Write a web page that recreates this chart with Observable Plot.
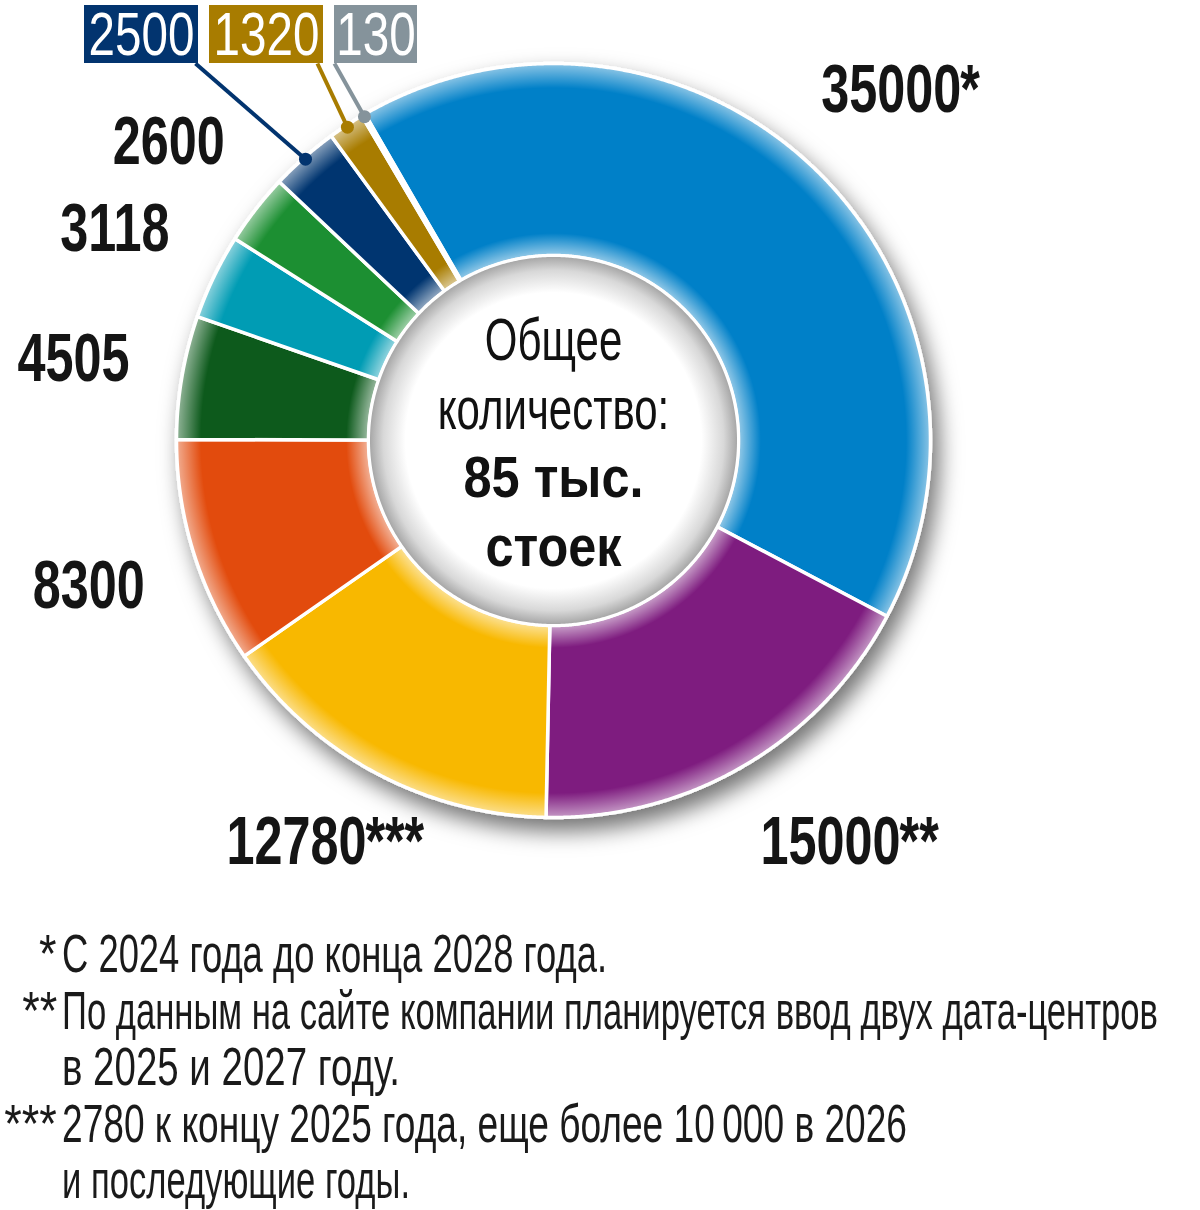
<!DOCTYPE html>
<html>
<head>
<meta charset="utf-8">
<script src="https://cdn.jsdelivr.net/npm/d3@7"></script>
<script src="https://cdn.jsdelivr.net/npm/@observablehq/plot@0.6"></script>
<style>
  html, body { margin: 0; padding: 0; background: #fff; }
  body { position: relative; width: 1200px; height: 1210px; overflow: hidden;
         font-family: "Liberation Sans", Arial, sans-serif; }
  #chart { position: absolute; left: 0; top: 0; }
  #notes { position: absolute; left: 0; top: 0; width: 1200px; }
  .nline { position: absolute; left: 0; height: 57px; white-space: nowrap; font-size: 53px; line-height: 57px; color: #1a1a1a; }
  .nmark { position: absolute; right: 1143px; top: 0; display: inline-block; transform-origin: 100% 50%; }
  .ntext { position: absolute; left: 62px; top: 0; display: inline-block; transform-origin: 0 50%; }
</style>
</head>
<body>
<div id="chart"></div>
<div id="notes"></div>
<script>
// ---- data ----
const sliceNumbers = ["35000", "15000", "12780", "8300", "4505", "3118", "2600", "2500", "1320", "130"];
const sliceSuffixes = ["*", "**", "***", "", "", "", "", "", "", ""];
const sliceValues = [35000, 15000, 12780, 8300, 4505, 3118, 2600, 2500, 1320, 130];
const sliceColors = ["#0680C8", "#7E1B7F", "#F8B800", "#E24B0E", "#0E5A1B", "#009CB4", "#1E8F30", "#02346F", "#A87C00", "#85939B"];
const calloutNumbers = ["2500", "1320", "130"];
const centerRegular = ["Общее", "количество:"];
const centerBold = ["85 тыс.", "стоек"];
const noteMarks = ["*", "**", "***"];
const noteLines = [
  ["С 2024 года до конца 2028 года."],
  ["По данным на сайте компании планируется ввод двух дата-центров", "в 2025 и 2027 году."],
  ["2780 к концу 2025 года, еще более 10\u2009000 в 2026", "и последующие годы."]
];

// ---- layout ----
const W = 1200, H = 900, cx = 553, cy = 440, R = 377, R0 = 185;
const start = -30 * Math.PI / 180;
const FONT = "Liberation Sans, Arial, sans-serif";

const arcs = d3.pie().sort(null).startAngle(start).endAngle(start + 2 * Math.PI)(sliceValues);
const polar = (a, r) => ({x: r * Math.sin(a), y: -r * Math.cos(a)});

const slicePts = arcs.flatMap((d, i) => {
  const n = Math.max(2, Math.ceil((d.endAngle - d.startAngle) / 0.004));
  const pts = [];
  for (let k = 0; k <= n; k++) pts.push(polar(d.startAngle + (d.endAngle - d.startAngle) * k / n, R));
  for (let k = n; k >= 0; k--) pts.push(polar(d.startAngle + (d.endAngle - d.startAngle) * k / n, R0));
  pts.push(pts[0]);
  return pts.map(p => ({...p, key: i, color: sliceColors[i]}));
});
const circle = r => d3.range(0, 721).map(k => polar(k / 720 * 2 * Math.PI, r));

// labels sit on a ring outside the donut; those that fall below it are lifted and spread sideways
const labelR = 487;
const labelData = arcs.map((d, i) => ({d, i})).filter(({i}) => !calloutNumbers.includes(sliceNumbers[i])).map(({d, i}) => {
  const a = (d.startAngle + d.endAngle) / 2;
  const p = polar(a, labelR);
  if (p.y > R + 24) { p.y = R + 24; p.x *= 1.12; }
  return {x: p.x, y: p.y, num: sliceNumbers[i], suf: sliceSuffixes[i], half: sliceNumbers[i].length * 14};
});

let bx = 84;
const boxes = calloutNumbers.map((t) => {
  const i = sliceNumbers.indexOf(t);
  const d = arcs[i];
  const a = (d.startAngle + d.endAngle) / 2;
  const dot = polar(a, R - 2);
  const w = 31 * t.length - 10;
  const b = {text: t, color: sliceColors[i], x0: bx, x1: bx + w, dot};
  bx += w + 11;
  b.sx = Math.min(b.x1 - 3, dot.x + cx - 30);
  return b;
});
const boxTop = 5, boxBottom = 63;

const marks = [
  Plot.line(slicePts, {x: "x", y: "y", z: "key", fill: "color", stroke: "#fff", strokeWidth: 3.5, curve: "linear"}),     // 0
  Plot.line(circle(R), {x: "x", y: "y", fill: "white", fillOpacity: 0, stroke: "none", curve: "linear"}),                 // 1 shine
  Plot.line(circle(R0), {x: "x", y: "y", fill: "white", stroke: "#fff", strokeWidth: 3, curve: "linear"}),                // 2 hole
  Plot.text(centerRegular, {x: () => 0, y: (d, i) => -100 + i * 69, text: d => d, fontSize: 60, fontFamily: FONT, fill: "#111"}), // 3
  Plot.text(centerBold, {x: () => 0, y: (d, i) => 38 + i * 69, text: d => d, fontSize: 58, fontWeight: 700, fontFamily: FONT, fill: "#111"}), // 4
  Plot.text(labelData, {x: "x", y: "y", text: "num", fontSize: 69, fontWeight: 700, fontFamily: FONT, fill: "#151515"}), // 5
  Plot.text(labelData.filter(d => d.suf), {x: d => d.x + d.half - 1, y: "y", text: "suf", textAnchor: "start", fontSize: 69, fontWeight: 700, fontFamily: FONT, fill: "#151515"}), // 6
  Plot.rect(boxes, {x1: d => d.x0 - cx, x2: d => d.x1 - cx, y1: () => boxTop - cy, y2: () => boxBottom - cy, fill: "color"}), // 7
  Plot.link(boxes, {x1: d => d.sx - cx, y1: () => boxBottom - cy, x2: d => d.dot.x, y2: d => d.dot.y, stroke: "color", strokeWidth: 4}), // 8
  Plot.dot(boxes, {x: d => d.dot.x, y: d => d.dot.y, r: 6.5, fill: "color", stroke: "none"}), // 9
  Plot.text(boxes, {x: d => (d.x0 + d.x1) / 2 - cx, y: () => (boxTop + boxBottom) / 2 - cy + 1, text: "text", fontSize: 61, fontFamily: FONT, fill: "#fff"}) // 10
];

const plot = Plot.plot({
  width: W, height: H, margin: 0,
  x: {domain: [-cx, W - cx], range: [0, W], axis: null},
  y: {domain: [-cy, H - cy], range: [0, H], axis: null},
  color: {type: "identity"},
  marks
});
document.getElementById("chart").appendChild(plot);

const svg = d3.select(plot);
const groups = svg.selectChildren("g").nodes();

const defs = svg.insert("defs", ":first-child");
const f = defs.append("filter").attr("id", "dshadow").attr("x", "-20%").attr("y", "-20%").attr("width", "150%").attr("height", "150%");
f.append("feDropShadow").attr("dx", 7).attr("dy", 12).attr("stdDeviation", 11).attr("flood-color", "#000").attr("flood-opacity", 0.55);
function radial(id, stops) {
  const g = defs.append("radialGradient").attr("id", id).attr("cx", "50%").attr("cy", "50%").attr("r", "50%");
  stops.forEach(([o, c, op]) => g.append("stop").attr("offset", o).attr("stop-color", c).attr("stop-opacity", op));
}
radial("ringShine", [[0, "#fff", 0], [0.49, "#fff", 0.6], [0.55, "#fff", 0], [0.935, "#fff", 0], [1, "#fff", 0.55]]);
radial("holeGrad", [[0, "#fff", 1], [0.8, "#fff", 1], [0.92, "#d8d8d8", 1], [1, "#a2a2a2", 1]]);

if (groups[0]) d3.select(groups[0]).attr("filter", "url(#dshadow)");
if (groups[1]) d3.select(groups[1]).attr("fill-opacity", 1).selectAll("path").attr("fill", "url(#ringShine)");
if (groups[2]) d3.select(groups[2]).selectAll("path").attr("fill", "url(#holeGrad)");

function squeeze(idx, s) {
  if (!groups[idx]) return;
  d3.select(groups[idx]).selectAll("text").each(function () {
    const t = this.getAttribute("transform") || "";
    const x = +this.getAttribute("x") || 0, y = +this.getAttribute("y") || 0;
    this.setAttribute("transform", `${t} translate(${x},${y}) scale(${s},1) translate(${-x},${-y})`);
  });
}
squeeze(3, 0.70);
squeeze(4, 0.87);
squeeze(5, 0.73);
squeeze(6, 0.73);
squeeze(10, 0.78);

// ---- footnotes ----
const notes = d3.select("#notes");
const noteWidths = [545, 1096, 338, 845, 348];
let line = 0;
const top0 = 925, step = 56.5;
noteLines.forEach((lines, i) => {
  lines.forEach((txt, j) => {
    const row = notes.append("div").attr("class", "nline").style("top", (top0 + line * step) + "px").style("width", "1200px");
    if (j === 0) row.append("span").attr("class", "nmark").text(noteMarks[i]);
    const sp = row.append("span").attr("class", "ntext").text(txt);
    const w = sp.node().getBoundingClientRect().width;
    sp.style("transform", `scaleX(${noteWidths[line] / w})`);
    line++;
  });
});
notes.selectAll(".nmark").style("transform", "scaleX(0.85)");
</script>
</body>
</html>
